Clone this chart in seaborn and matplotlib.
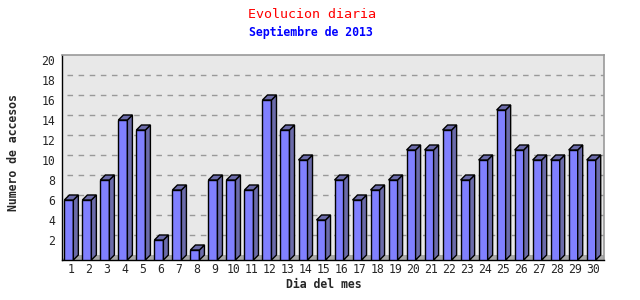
import numpy as np
import pandas as pd
import matplotlib
matplotlib.use("Agg")
import matplotlib.pyplot as plt
from matplotlib.patches import Polygon
import seaborn as sns

days = [str(d) for d in range(1, 31)]
accesos = [6, 6, 8, 14, 13, 2, 7, 1, 8, 8, 7, 16, 13, 10, 4,
           8, 6, 7, 8, 11, 11, 13, 8, 10, 15, 11, 10, 10, 11, 10]
yticks = [2, 4, 6, 8, 10, 12, 14, 16, 18, 20]
title = "Evolucion diaria"
subtitle = "Septiembre de 2013"
xlabel = "Dia del mes"
ylabel = "Numero de accesos"

sns.set_style("white")
plt.rcParams['font.family'] = ['DejaVu Sans Mono', 'DejaVu Sans']

df = pd.DataFrame({"dia": days, "accesos": accesos})

fig = plt.figure(figsize=(6.4, 3.0), dpi=100)
ax = fig.add_axes([62/640, 40/300, 542/640, 205/300])
ax.set_facecolor('#E8E8E8')

front = '#8080FF'
dark = '#6B6BAA'
sns.barplot(data=df, x="dia", y="accesos", color=front, edgecolor='black',
            linewidth=1, width=0.5, ax=ax, saturation=1, zorder=3)
bars = list(ax.patches)
for p in bars:
    p.set_joinstyle('miter')

xmin, xmax = -0.38, 29.71
ax.set_xlim(xmin, xmax)
ax.set_ylim(0, 20.5)

dx = 5 / 18.0
dy = 0.5

# floor
ax.add_patch(Polygon([(xmin, 0), (xmin + dx, dy), (xmax, dy), (xmax, 0)],
                     closed=True, facecolor='#A8A8A8', edgecolor='none', zorder=1))
# gridlines on back wall
for v in yticks[:-1]:
    ax.plot([xmin + dx, xmax], [v + dy, v + dy], color='#999999', lw=1,
            dashes=(4, 4), zorder=2)

for p in bars:
    x0 = p.get_x(); w = p.get_width(); h = p.get_height()
    top = Polygon([(x0, h), (x0 + dx, h + dy), (x0 + w + dx, h + dy), (x0 + w, h)],
                  closed=True, facecolor=dark, edgecolor='black', lw=1, zorder=3,
                  joinstyle='miter')
    side = Polygon([(x0 + w, 0), (x0 + w, h), (x0 + w + dx, h + dy), (x0 + w + dx, dy)],
                   closed=True, facecolor=dark, edgecolor='black', lw=1, zorder=3,
                   joinstyle='miter')
    ax.add_patch(side)
    ax.add_patch(top)

ax.set_yticks(yticks)
ax.set_yticklabels([str(v) for v in yticks], fontsize=8.3)
ax.set_xticks(np.arange(len(days)) + 0.12)
ax.set_xticklabels(days, fontsize=8.3)
ax.set_xticks(np.arange(len(days)) + 0.55, minor=True)
ax.tick_params(axis='x', which='major', length=0, pad=2)
ax.tick_params(axis='x', which='minor', length=4, direction='out', color='black', width=1)
ax.tick_params(axis='y', length=3, direction='out', color='black', width=1, pad=2)

for s in ['top', 'right']:
    ax.spines[s].set_color('#999999')
    ax.spines[s].set_linewidth(1.2)
for s in ['left', 'bottom']:
    ax.spines[s].set_color('black')
    ax.spines[s].set_linewidth(1)

ax.set_xlabel("")
ax.set_ylabel("")
fig.text(324/640, 1 - 284/300, xlabel, ha='center', va='center',
         fontsize=8.3, fontweight='bold')
fig.text(14/640, 1 - 153/300, ylabel, ha='center', va='center', rotation=90,
         fontsize=8.3, fontweight='bold')
fig.text(312/640, 1 - 14/300, title, ha='center', va='center',
         fontsize=9.6, color='#FF0000')
fig.text(311/640, 1 - 32/300, subtitle, ha='center', va='center',
         fontsize=8.3, fontweight='bold', color='#0000FF')

fig.savefig("out.png", dpi=100, facecolor='white')
